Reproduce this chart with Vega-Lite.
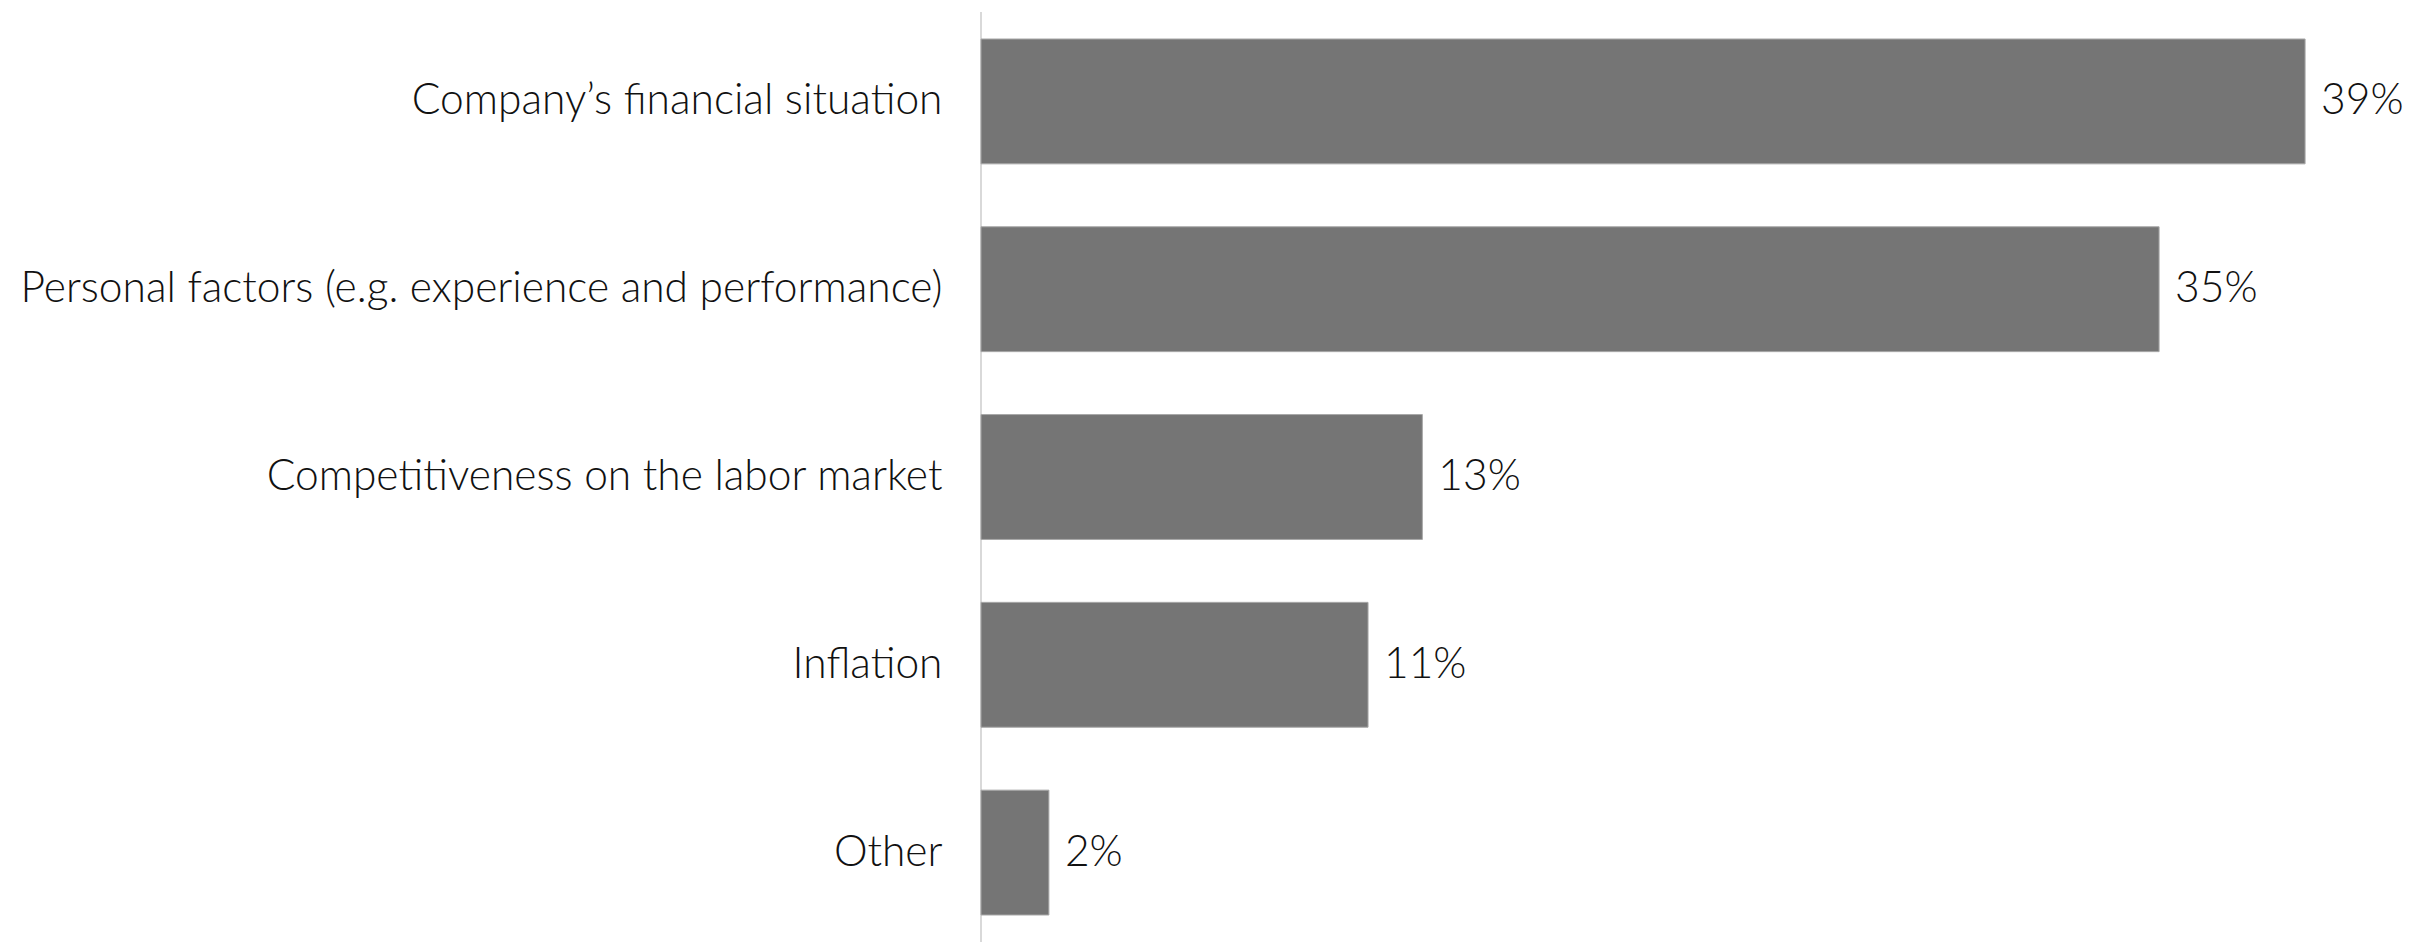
{
  "$schema": "https://vega.github.io/schema/vega-lite/v6.json",
  "autosize": "none",
  "width": 1448,
  "height": 930,
  "padding": {"left": 981, "top": 12, "right": 0, "bottom": 0},
  "background": "white",
  "config": {"view": {"stroke": null}, "font": "Lato"},
  "data": {"values": [
    {"reason": "Company’s financial situation", "share": 0.390},
    {"reason": "Personal factors (e.g. experience and performance)", "share": 0.347},
    {"reason": "Competitiveness on the labor market", "share": 0.130},
    {"reason": "Inflation", "share": 0.114},
    {"reason": "Other", "share": 0.020}
  ]},
  "encoding": {
    "y": {"field": "reason", "type": "nominal", "sort": null, "title": null,
      "scale": {"paddingInner": 0.335, "paddingOuter": 0.1437},
      "axis": {"domain": false, "ticks": false, "labelPadding": 39, "labelFontSize": 42.5, "labelFontWeight": 300, "labelColor": "#111111", "labelFont": "Lato", "labelLimit": 1000}},
    "x": {"field": "share", "type": "quantitative", "title": null,
      "scale": {"domain": [0, 0.4265], "nice": false, "zero": true},
      "axis": null}
  },
  "layer": [
    {"mark": {"type": "rule", "color": "#d9d9d9", "strokeWidth": 2}, "encoding": {"x": {"datum": 0, "type": "quantitative"}, "y": null, "y2": null}},
    {"mark": {"type": "bar", "color": "#757575", "stroke": "#a8a8a8", "strokeWidth": 1}},
    {"mark": {"type": "text", "align": "left", "baseline": "middle", "dx": 16, "fontSize": 42.5, "fontWeight": 300, "font": "Lato", "color": "#111111"},
     "encoding": {"text": {"field": "share", "type": "quantitative", "format": ".0%"}}}
  ]
}
